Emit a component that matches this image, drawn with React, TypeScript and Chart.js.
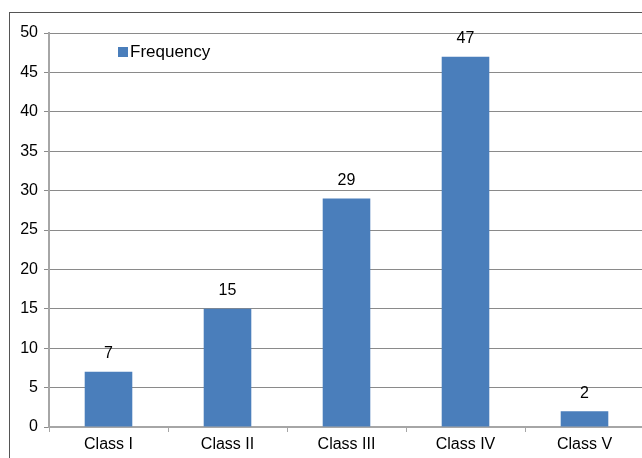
import React, { useEffect, useRef } from "react";
import { Chart, registerables } from "chart.js";

Chart.register(...registerables);

const categories = ["Class I", "Class II", "Class III", "Class IV", "Class V"];
const frequency = [7, 15, 29, 47, 2];
const seriesLabel = "Frequency";
const yTicks = [0, 5, 10, 15, 20, 25, 30, 35, 40, 45, 50];

const BAR_COLOR = "#4a7ebb";
const FONT = "Arial, 'Liberation Sans', sans-serif";

// Outer frame around the whole chart
const framePlugin = {
  id: "frame",
  beforeDraw(chart: any) {
    const ctx = chart.ctx;
    ctx.save();
    ctx.strokeStyle = "#555555";
    ctx.lineWidth = 1;
    ctx.strokeRect(9.5, 12.5, 800, 600);
    ctx.restore();
  },
};

// Value labels above each bar
const valueLabelPlugin = {
  id: "valueLabels",
  afterDatasetsDraw(chart: any) {
    const ctx = chart.ctx;
    const meta = chart.getDatasetMeta(0);
    ctx.save();
    ctx.fillStyle = "#000000";
    ctx.font = `16px ${FONT}`;
    ctx.textAlign = "center";
    ctx.textBaseline = "middle";
    meta.data.forEach((bar: any, i: number) => {
      ctx.fillText(String(chart.data.datasets[0].data[i]), bar.x, bar.y - 18);
    });
    ctx.restore();
  },
};

// Legend drawn inside the plot area, top-left
const insideLegendPlugin = {
  id: "insideLegend",
  afterDraw(chart: any) {
    const ctx = chart.ctx;
    const ds = chart.data.datasets[0];
    ctx.save();
    ctx.fillStyle = ds.backgroundColor;
    ctx.fillRect(118, 47, 10, 10);
    ctx.fillStyle = "#000000";
    ctx.font = `17px ${FONT}`;
    ctx.textAlign = "left";
    ctx.textBaseline = "middle";
    ctx.fillText(ds.label, 130, 52.5);
    ctx.restore();
  },
};

export default function App() {
  const canvasRef = useRef<HTMLCanvasElement | null>(null);

  useEffect(() => {
    const canvas = canvasRef.current;
    if (!canvas) return;
    const chart = new Chart(canvas, {
      type: "bar",
      data: {
        labels: categories,
        datasets: [
          {
            label: seriesLabel,
            data: frequency,
            backgroundColor: BAR_COLOR,
            borderWidth: 0,
            barPercentage: 0.4,
            categoryPercentage: 1,
          },
        ],
      },
      options: {
        animation: false,
        responsive: false,
        maintainAspectRatio: false,
        layout: { padding: { left: 0, right: 16, top: 33, bottom: 0 } },
        plugins: {
          legend: { display: false },
          tooltip: { enabled: false },
        },
        scales: {
          x: {
            grid: {
              offset: true,
              drawOnChartArea: false,
              drawTicks: true,
              tickLength: 5,
              color: "#a6a6a6",
              lineWidth: 1,
            },
            border: { color: "#a6a6a6", width: 2 },
            ticks: {
              color: "#000000",
              font: { family: FONT, size: 16 },
              padding: 3,
            },
            afterFit(scale: any) {
              scale.height = 31;
            },
          },
          y: {
            min: 0,
            max: 50,
            afterBuildTicks(scale: any) {
              scale.ticks = yTicks.map((v) => ({ value: v }));
            },
            grid: {
              color: "#8a8a8a",
              lineWidth: 1,
              tickLength: 5,
            },
            border: { color: "#a6a6a6", width: 2 },
            ticks: {
              color: "#000000",
              font: { family: FONT, size: 16 },
              padding: 6,
            },
            afterFit(scale: any) {
              scale.width = 49;
            },
          },
        },
      },
      plugins: [framePlugin, valueLabelPlugin, insideLegendPlugin],
    });
    return () => chart.destroy();
  }, []);

  return (
    <div
      style={{
        position: "fixed",
        left: 0,
        top: 0,
        width: 642,
        height: 458,
        overflow: "hidden",
        background: "#ffffff",
      }}
    >
      <canvas ref={canvasRef} width={660} height={458} style={{ display: "block" }} />
    </div>
  );
}
